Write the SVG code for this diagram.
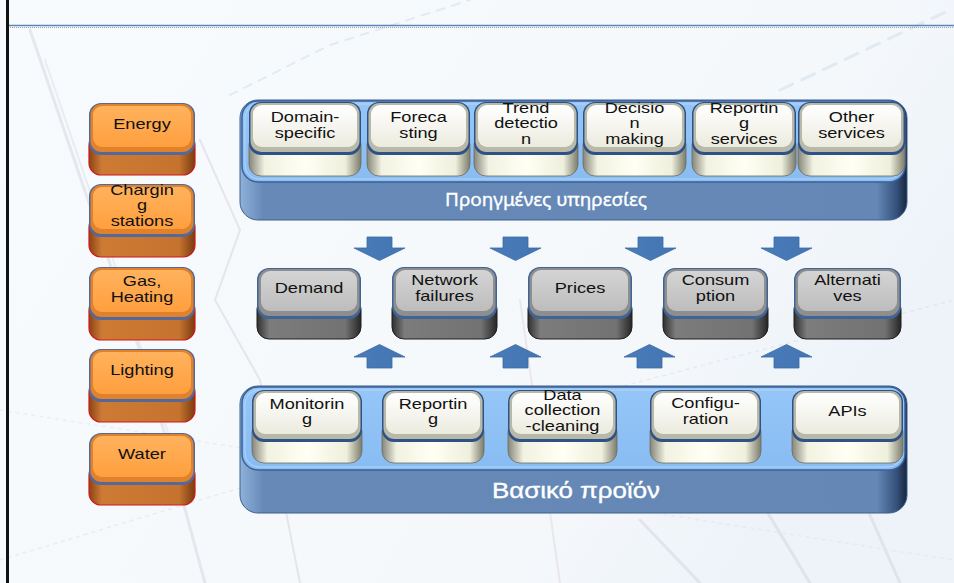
<svg xmlns="http://www.w3.org/2000/svg" width="954" height="583" viewBox="0 0 954 583">
  <defs>
    <linearGradient id="bg" x1="0" y1="0" x2="1" y2="0.4">
      <stop offset="0" stop-color="#f8fbfd"/>
      <stop offset="0.8" stop-color="#f5f8fb"/>
      <stop offset="1" stop-color="#edf3f9"/>
    </linearGradient>
    <!-- orange sector tiles -->
    <linearGradient id="orFace" x1="0" y1="0" x2="0" y2="1">
      <stop offset="0" stop-color="#ffb25c"/>
      <stop offset="1" stop-color="#ff9f3f"/>
    </linearGradient>
    <linearGradient id="orSide" x1="0" y1="0" x2="1" y2="0">
      <stop offset="0" stop-color="#8a4414"/>
      <stop offset="0.12" stop-color="#cd7a35"/>
      <stop offset="0.85" stop-color="#c6732f"/>
      <stop offset="1" stop-color="#7a3b0f"/>
    </linearGradient>
    <!-- grey intermediate tiles -->
    <linearGradient id="grFace" x1="0" y1="0" x2="0" y2="1">
      <stop offset="0" stop-color="#d4d4d4"/>
      <stop offset="1" stop-color="#bdbdbd"/>
    </linearGradient>
    <linearGradient id="grSide" x1="0" y1="0" x2="1" y2="0">
      <stop offset="0" stop-color="#303030"/>
      <stop offset="0.12" stop-color="#7c7c7c"/>
      <stop offset="0.85" stop-color="#727272"/>
      <stop offset="1" stop-color="#262626"/>
    </linearGradient>
    <!-- cream service tiles -->
    <linearGradient id="crFace" x1="0" y1="0" x2="0" y2="1">
      <stop offset="0" stop-color="#ffffff"/>
      <stop offset="1" stop-color="#ecebdf"/>
    </linearGradient>
    <linearGradient id="crSide" x1="0" y1="0" x2="1" y2="0">
      <stop offset="0" stop-color="#85857a"/>
      <stop offset="0.14" stop-color="#f2f2e2"/>
      <stop offset="0.5" stop-color="#fffff4"/>
      <stop offset="0.86" stop-color="#efefdd"/>
      <stop offset="1" stop-color="#7c7c6c"/>
    </linearGradient>
    <!-- platform band -->
    <linearGradient id="band" x1="0" y1="0" x2="1" y2="0">
      <stop offset="0" stop-color="#8fb2da"/>
      <stop offset="0.035" stop-color="#6689b8"/>
      <stop offset="0.955" stop-color="#6487b5"/>
      <stop offset="0.985" stop-color="#34507a"/>
      <stop offset="1" stop-color="#16243c"/>
    </linearGradient>
    <linearGradient id="tray" x1="0" y1="0" x2="0" y2="1">
      <stop offset="0" stop-color="#96c6f8"/>
      <stop offset="1" stop-color="#88bcf2"/>
    </linearGradient>
    <linearGradient id="arrowFill" x1="0" y1="0" x2="1" y2="0">
      <stop offset="0" stop-color="#4a7cba"/>
      <stop offset="1" stop-color="#4475b3"/>
    </linearGradient>
  </defs>
  <style>
    .lbl { font-family: "Liberation Sans", Arial, sans-serif; font-size: 14px; fill: #111; text-anchor: middle; }
    .or-side { fill: url(#orSide); stroke: #d0181c; stroke-width: 1.2; }
    .or-rim { fill: #55689a; }
    .or-bevel { fill: #e0822c; }
    .or-face { fill: url(#orFace); }
    .gr-side { fill: url(#grSide); stroke: #1e1e1e; stroke-width: 1; }
    .gr-rim { fill: #3f6497; }
    .gr-bevel { fill: #8e8e8e; }
    .gr-face { fill: url(#grFace); }
    .cr-side { fill: url(#crSide); stroke: #6c6c60; stroke-width: 0.8; }
    .cr-rim { fill: #2e5286; }
    .cr-bevel { fill: #b9b9aa; }
    .cr-face { fill: url(#crFace); }
    .band { fill: url(#band); stroke: #3d5f8e; stroke-width: 1; }
    .tray { fill: url(#tray); stroke: #3a6298; stroke-width: 1.5; }
    .tray-lip { fill: none; stroke: #b6d6f6; stroke-width: 1; }
    .arrow { fill: url(#arrowFill); stroke: #3b6aa6; stroke-width: 0.8; }
    .deco { fill: none; stroke-linecap: round; }
    .band-title { fill: #ffffff; text-anchor: middle; stroke: #ffffff; stroke-width: 0.35; }
  </style>

  <!-- page background with faint chart strokes -->
  <rect x="0" y="0" width="954" height="583" fill="url(#bg)"/>
  <g class="deco" opacity="0.35">
    <path d="M30 30 L88 200 L150 380 L205 583" stroke="#c3c9d4" stroke-width="3"/>
    <path d="M45 60 L110 250 L180 470" stroke="#d0d5de" stroke-width="2"/>
    <path d="M230 95 L330 45 L470 0" stroke="#bcd0e4" stroke-width="2" stroke-dasharray="8 8"/>
    <path d="M780 90 L950 10" stroke="#bcd0e4" stroke-width="3" stroke-dasharray="14 10"/>
    <path d="M0 560 L300 470 L954 300" stroke="#cdd7e4" stroke-width="1.5" stroke-dasharray="3 5"/>
    <path d="M0 410 L954 560" stroke="#d6dde8" stroke-width="1.5" stroke-dasharray="3 5"/>
    <path d="M200 140 L240 230 L215 300 L260 380 L300 583" stroke="#cbbfd0" stroke-width="2"/>
    <path d="M640 520 L700 583 M760 500 L810 583 M850 470 L900 583" stroke="#d0c4d2" stroke-width="3"/>
    <path d="M520 300 L560 583" stroke="#dcc8d2" stroke-width="2"/>
  </g>

  <!-- title rule and frame edge -->
  <line x1="8" y1="25.5" x2="954" y2="25.5" stroke="#5a86ba" stroke-width="1.6"/>
  <line x1="8" y1="27.5" x2="954" y2="27.5" stroke="#9aa4ae" stroke-width="1" stroke-dasharray="1 1"/>
  <rect x="6" y="0" width="3" height="583" fill="#111"/>

  <!-- upper platform: advanced services -->
  <g id="platform-services">
    <rect class="band" x="240" y="100" width="667" height="120" rx="18"/>
    <rect class="tray" x="242" y="101" width="663" height="81" rx="16"/>
    <rect class="tray-lip" x="245" y="104" width="657" height="75" rx="14"/>
    <text class="band-title" x="546" y="206" font-family="'Noto Sans', 'Open Sans', sans-serif" font-size="18" textLength="202" lengthAdjust="spacingAndGlyphs">Προηγμένες υπηρεσίες</text>
  </g>

  <!-- lower platform: core product -->
  <g id="platform-core">
    <rect class="band" x="240" y="386" width="667" height="127" rx="18"/>
    <rect class="tray" x="242" y="387" width="663" height="83" rx="16"/>
    <rect class="tray-lip" x="245" y="390" width="657" height="77" rx="14"/>
    <text class="band-title" x="576" y="498" font-family="'Liberation Sans', Arial, sans-serif" font-size="22" textLength="168" lengthAdjust="spacingAndGlyphs">Βασικό προϊόν</text>
  </g>

  <!-- sector tiles (left column) -->
  <g id="sector-energy">
    <rect class="or-side" x="89" y="133" width="106" height="42" rx="12"/>
    <rect class="or-rim" x="89" y="103" width="106" height="52" rx="12"/>
    <rect class="or-bevel" x="90.5" y="104" width="103" height="48" rx="11"/>
    <rect class="or-face" x="93" y="106" width="98" height="41" rx="9"/>
    <g transform="translate(142 0) scale(1.3 1)"><text class="lbl" x="0" y="129">Energy</text></g>
  </g>
  <g id="sector-charging">
    <rect class="or-side" x="89" y="215" width="106" height="42" rx="12"/>
    <rect class="or-rim" x="89" y="184" width="106" height="53" rx="12"/>
    <rect class="or-bevel" x="90.5" y="185" width="103" height="49" rx="11"/>
    <rect class="or-face" x="93" y="187" width="98" height="42" rx="9"/>
    <g transform="translate(142 0) scale(1.3 1)">
      <text class="lbl" x="0" y="195">Chargin</text>
      <text class="lbl" x="0" y="210">g</text>
      <text class="lbl" x="0" y="226">stations</text>
    </g>
  </g>
  <g id="sector-gas">
    <rect class="or-side" x="89" y="298" width="106" height="42" rx="12"/>
    <rect class="or-rim" x="89" y="267" width="106" height="53" rx="12"/>
    <rect class="or-bevel" x="90.5" y="268" width="103" height="49" rx="11"/>
    <rect class="or-face" x="93" y="270" width="98" height="42" rx="9"/>
    <g transform="translate(142 0) scale(1.3 1)">
      <text class="lbl" x="0" y="286">Gas,</text>
      <text class="lbl" x="0" y="302">Heating</text>
    </g>
  </g>
  <g id="sector-lighting">
    <rect class="or-side" x="89" y="380" width="106" height="42" rx="12"/>
    <rect class="or-rim" x="89" y="349" width="106" height="53" rx="12"/>
    <rect class="or-bevel" x="90.5" y="350" width="103" height="49" rx="11"/>
    <rect class="or-face" x="93" y="352" width="98" height="42" rx="9"/>
    <g transform="translate(142 0) scale(1.3 1)"><text class="lbl" x="0" y="375">Lighting</text></g>
  </g>
  <g id="sector-water">
    <rect class="or-side" x="89" y="463" width="106" height="42" rx="12"/>
    <rect class="or-rim" x="89" y="433" width="106" height="52" rx="12"/>
    <rect class="or-bevel" x="90.5" y="434" width="103" height="48" rx="11"/>
    <rect class="or-face" x="93" y="436" width="98" height="41" rx="9"/>
    <g transform="translate(142 0) scale(1.3 1)"><text class="lbl" x="0" y="459">Water</text></g>
  </g>

  <!-- advanced service tiles -->
  <g id="svc-domain">
    <rect class="cr-side" x="249" y="133" width="112" height="43" rx="12"/>
    <rect class="cr-rim" x="249" y="102" width="112" height="53" rx="12"/>
    <rect class="cr-bevel" x="250.5" y="103" width="109" height="49" rx="11"/>
    <rect class="cr-face" x="253" y="105" width="104" height="42" rx="9"/>
    <g transform="translate(305 0) scale(1.3 1)">
      <text class="lbl" x="0" y="122">Domain-</text>
      <text class="lbl" x="0" y="138">specific</text>
    </g>
  </g>
  <g id="svc-forecasting">
    <rect class="cr-side" x="367" y="133" width="103" height="43" rx="12"/>
    <rect class="cr-rim" x="367" y="102" width="103" height="53" rx="12"/>
    <rect class="cr-bevel" x="368.5" y="103" width="100" height="49" rx="11"/>
    <rect class="cr-face" x="371" y="105" width="95" height="42" rx="9"/>
    <g transform="translate(418.5 0) scale(1.3 1)">
      <text class="lbl" x="0" y="122">Foreca</text>
      <text class="lbl" x="0" y="138">sting</text>
    </g>
  </g>
  <g id="svc-trend">
    <rect class="cr-side" x="474" y="133" width="104" height="43" rx="12"/>
    <rect class="cr-rim" x="474" y="102" width="104" height="53" rx="12"/>
    <rect class="cr-bevel" x="475.5" y="103" width="101" height="49" rx="11"/>
    <rect class="cr-face" x="478" y="105" width="96" height="42" rx="9"/>
    <g transform="translate(526 0) scale(1.3 1)">
      <text class="lbl" x="0" y="113">Trend</text>
      <text class="lbl" x="0" y="128">detectio</text>
      <text class="lbl" x="0" y="144">n</text>
    </g>
  </g>
  <g id="svc-decision">
    <rect class="cr-side" x="583" y="133" width="103" height="43" rx="12"/>
    <rect class="cr-rim" x="583" y="102" width="103" height="53" rx="12"/>
    <rect class="cr-bevel" x="584.5" y="103" width="100" height="49" rx="11"/>
    <rect class="cr-face" x="587" y="105" width="95" height="42" rx="9"/>
    <g transform="translate(634.5 0) scale(1.3 1)">
      <text class="lbl" x="0" y="113">Decisio</text>
      <text class="lbl" x="0" y="128">n</text>
      <text class="lbl" x="0" y="144">making</text>
    </g>
  </g>
  <g id="svc-reporting">
    <rect class="cr-side" x="692" y="133" width="104" height="43" rx="12"/>
    <rect class="cr-rim" x="692" y="102" width="104" height="53" rx="12"/>
    <rect class="cr-bevel" x="693.5" y="103" width="101" height="49" rx="11"/>
    <rect class="cr-face" x="696" y="105" width="96" height="42" rx="9"/>
    <g transform="translate(744 0) scale(1.3 1)">
      <text class="lbl" x="0" y="113">Reportin</text>
      <text class="lbl" x="0" y="128">g</text>
      <text class="lbl" x="0" y="144">services</text>
    </g>
  </g>
  <g id="svc-other">
    <rect class="cr-side" x="798" y="133" width="107" height="43" rx="12"/>
    <rect class="cr-rim" x="798" y="102" width="107" height="53" rx="12"/>
    <rect class="cr-bevel" x="799.5" y="103" width="104" height="49" rx="11"/>
    <rect class="cr-face" x="802" y="105" width="99" height="42" rx="9"/>
    <g transform="translate(851.5 0) scale(1.3 1)">
      <text class="lbl" x="0" y="122">Other</text>
      <text class="lbl" x="0" y="138">services</text>
    </g>
  </g>

  <!-- intermediate analytics tiles -->
  <g id="mid-demand">
    <rect class="gr-side" x="257" y="297" width="104" height="42" rx="12"/>
    <rect class="gr-rim" x="257" y="268" width="104" height="51" rx="12"/>
    <rect class="gr-bevel" x="258.5" y="269" width="101" height="47" rx="11"/>
    <rect class="gr-face" x="261" y="271" width="96" height="40" rx="9"/>
    <g transform="translate(309 0) scale(1.3 1)"><text class="lbl" x="0" y="293">Demand</text></g>
  </g>
  <g id="mid-network">
    <rect class="gr-side" x="392" y="297" width="105" height="42" rx="12"/>
    <rect class="gr-rim" x="392" y="267" width="105" height="52" rx="12"/>
    <rect class="gr-bevel" x="393.5" y="268" width="102" height="48" rx="11"/>
    <rect class="gr-face" x="396" y="270" width="97" height="41" rx="9"/>
    <g transform="translate(444.5 0) scale(1.3 1)">
      <text class="lbl" x="0" y="285">Network</text>
      <text class="lbl" x="0" y="301">failures</text>
    </g>
  </g>
  <g id="mid-prices">
    <rect class="gr-side" x="528" y="297" width="104" height="42" rx="12"/>
    <rect class="gr-rim" x="528" y="267" width="104" height="52" rx="12"/>
    <rect class="gr-bevel" x="529.5" y="268" width="101" height="48" rx="11"/>
    <rect class="gr-face" x="532" y="270" width="96" height="41" rx="9"/>
    <g transform="translate(580 0) scale(1.3 1)"><text class="lbl" x="0" y="293">Prices</text></g>
  </g>
  <g id="mid-consumption">
    <rect class="gr-side" x="663" y="297" width="105" height="42" rx="12"/>
    <rect class="gr-rim" x="663" y="268" width="105" height="51" rx="12"/>
    <rect class="gr-bevel" x="664.5" y="269" width="102" height="47" rx="11"/>
    <rect class="gr-face" x="667" y="271" width="97" height="40" rx="9"/>
    <g transform="translate(715.5 0) scale(1.3 1)">
      <text class="lbl" x="0" y="285">Consum</text>
      <text class="lbl" x="0" y="301">ption</text>
    </g>
  </g>
  <g id="mid-alternatives">
    <rect class="gr-side" x="794" y="297" width="107" height="42" rx="12"/>
    <rect class="gr-rim" x="794" y="268" width="107" height="51" rx="12"/>
    <rect class="gr-bevel" x="795.5" y="269" width="104" height="47" rx="11"/>
    <rect class="gr-face" x="798" y="271" width="99" height="40" rx="9"/>
    <g transform="translate(847.5 0) scale(1.3 1)">
      <text class="lbl" x="0" y="285">Alternati</text>
      <text class="lbl" x="0" y="301">ves</text>
    </g>
  </g>

  <!-- core product tiles -->
  <g id="core-monitoring">
    <rect class="cr-side" x="252" y="420" width="110" height="43" rx="12"/>
    <rect class="cr-rim" x="252" y="390" width="110" height="52" rx="12"/>
    <rect class="cr-bevel" x="253.5" y="391" width="107" height="48" rx="11"/>
    <rect class="cr-face" x="256" y="393" width="102" height="41" rx="9"/>
    <g transform="translate(307 0) scale(1.3 1)">
      <text class="lbl" x="0" y="409">Monitorin</text>
      <text class="lbl" x="0" y="424">g</text>
    </g>
  </g>
  <g id="core-reporting">
    <rect class="cr-side" x="382" y="420" width="102" height="43" rx="12"/>
    <rect class="cr-rim" x="382" y="390" width="102" height="52" rx="12"/>
    <rect class="cr-bevel" x="383.5" y="391" width="99" height="48" rx="11"/>
    <rect class="cr-face" x="386" y="393" width="94" height="41" rx="9"/>
    <g transform="translate(433 0) scale(1.3 1)">
      <text class="lbl" x="0" y="409">Reportin</text>
      <text class="lbl" x="0" y="424">g</text>
    </g>
  </g>
  <g id="core-data">
    <rect class="cr-side" x="508" y="420" width="109" height="43" rx="12"/>
    <rect class="cr-rim" x="508" y="390" width="109" height="52" rx="12"/>
    <rect class="cr-bevel" x="509.5" y="391" width="106" height="48" rx="11"/>
    <rect class="cr-face" x="512" y="393" width="101" height="41" rx="9"/>
    <g transform="translate(562.5 0) scale(1.3 1)">
      <text class="lbl" x="0" y="400">Data</text>
      <text class="lbl" x="0" y="415">collection</text>
      <text class="lbl" x="0" y="431">-cleaning</text>
    </g>
  </g>
  <g id="core-configuration">
    <rect class="cr-side" x="650" y="420" width="111" height="43" rx="12"/>
    <rect class="cr-rim" x="650" y="390" width="111" height="52" rx="12"/>
    <rect class="cr-bevel" x="651.5" y="391" width="108" height="48" rx="11"/>
    <rect class="cr-face" x="654" y="393" width="103" height="41" rx="9"/>
    <g transform="translate(705.5 0) scale(1.3 1)">
      <text class="lbl" x="0" y="408">Configu-</text>
      <text class="lbl" x="0" y="424">ration</text>
    </g>
  </g>
  <g id="core-apis">
    <rect class="cr-side" x="792" y="420" width="111" height="43" rx="12"/>
    <rect class="cr-rim" x="792" y="390" width="111" height="52" rx="12"/>
    <rect class="cr-bevel" x="793.5" y="391" width="108" height="48" rx="11"/>
    <rect class="cr-face" x="796" y="393" width="103" height="41" rx="9"/>
    <g transform="translate(847.5 0) scale(1.3 1)"><text class="lbl" x="0" y="416">APIs</text></g>
  </g>

  <!-- block arrows between the layers -->
  <g id="connectors">
    <!-- downward, from advanced services -->
    <path class="arrow" d="M367 237 H392 V248 H405 L379.5 260.5 L354 248 H367 Z"/>
    <path class="arrow" d="M503 237 H528 V248 H541 L515.5 260.5 L490 248 H503 Z"/>
    <path class="arrow" d="M638 237 H663 V248 H676 L650.5 260.5 L625 248 H638 Z"/>
    <path class="arrow" d="M774 237 H799 V248 H812 L786.5 260.5 L761 248 H774 Z"/>
    <!-- upward, from core product -->
    <path class="arrow" d="M367 368 H392 V357 H405 L379.5 344.5 L354 357 H367 Z"/>
    <path class="arrow" d="M503 368 H528 V357 H541 L515.5 344.5 L490 357 H503 Z"/>
    <path class="arrow" d="M637 368 H662 V357 H675 L649.5 344.5 L624 357 H637 Z"/>
    <path class="arrow" d="M774 368 H799 V357 H812 L786.5 344.5 L761 357 H774 Z"/>
  </g>
</svg>
